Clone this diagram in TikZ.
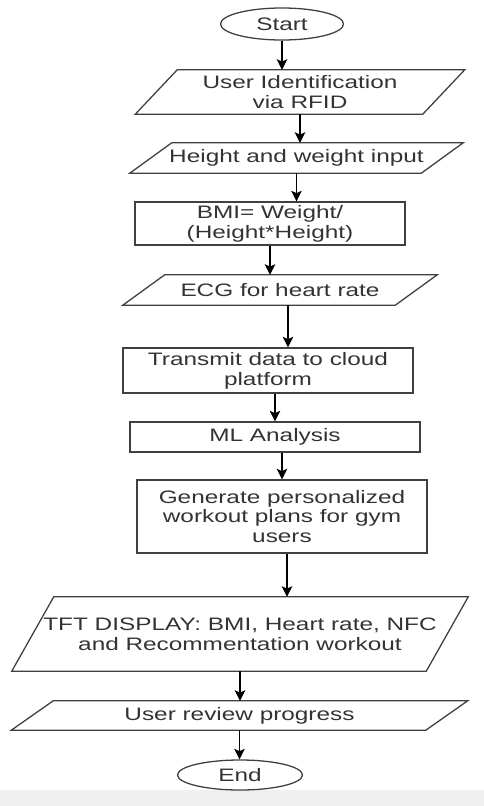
\documentclass[tikz,border=0pt]{standalone}
\usepackage{fontspec}
\setmainfont{Liberation Sans}[FakeStretch=1.35]
\usetikzlibrary{shapes.geometric, arrows.meta}

\tikzset{
  term/.style={ellipse, draw=black!75, line width=1.1pt, inner sep=0pt, text=black!80},
  box/.style={rectangle, draw=black!75, line width=1.1pt, inner sep=0pt, align=center, text=black!80},
  io/.style={rectangle, inner sep=0pt, align=center, text=black!80},
  ioline/.style={draw=black!75, line width=1.1pt, line join=miter},
  flow/.style={-{Stealth[length=9pt,width=9pt,inset=2pt]}, line width=0.9pt},
}
% slanted outline round an input/output node
\newcommand{\ioframe}[1]{%
  \draw[ioline] ([xshift=6.3mm]#1.north west) -- ([xshift=6.3mm]#1.north east)
    -- ([xshift=-6.3mm]#1.south east) -- ([xshift=-6.3mm]#1.south west) -- cycle;}

\begin{document}
\begin{tikzpicture}[x=0.03cm, y=-0.03cm, font=\fontsize{15.4}{16.8}\selectfont]
  \fill[black!6] (0,790) rectangle (484,806);
  \useasboundingbox (0,0) rectangle (484,806);
  % Flowchart steps, top to bottom
  \node[term, minimum width=3.69cm, minimum height=0.96cm] (start) at (282,24) {Start};
  \node[io, minimum width=8.61cm, minimum height=1.32cm] (uid) at (300,92) {User Identification\\via RFID};
  \node[io, minimum width=8.73cm, minimum height=0.9cm] (hw) at (296.5,158) {Height and weight input};
  \node[box, minimum width=8.1cm, minimum height=1.29cm] (bmi) at (270,223.5) {BMI= Weight/\\(Height*Height)};
  \node[io, minimum width=8.16cm, minimum height=0.9cm] (ecg) at (280,290) {ECG for heart rate};
  \node[box, minimum width=8.7cm, minimum height=1.35cm] (send) at (268,370.5) {Transmit data to cloud\\platform};
  \node[box, minimum width=8.7cm, minimum height=0.9cm] (ml) at (275,437) {ML Analysis};
  \node[box, minimum width=8.7cm, minimum height=2.19cm] (plan) at (282,516.5) {Generate personalized\\workout plans for gym\\users};
  \node[io, minimum width=12.42cm, minimum height=2.22cm] (tft) at (240,634) {TFT DISPLAY: BMI, Heart rate, NFC\\and Recommentation workout};
  \node[io, minimum width=12.42cm, minimum height=0.87cm] (review) at (239.5,715.5) {User review progress};
  \node[term, minimum width=3.75cm, minimum height=0.9cm] (stop) at (240,775) {End};
  \ioframe{uid}
  \ioframe{hw}
  \ioframe{ecg}
  \ioframe{tft}
  \ioframe{review}
  % Arrows
  \draw[flow] (start.south) -- (start.south |- uid.north);
  \draw[flow] (uid.south) -- (uid.south |- hw.north);
  \draw[flow] (hw.south) -- (hw.south |- bmi.north);
  \draw[flow] (bmi.south) -- (bmi.south |- ecg.north);
  \draw[flow] ([xshift=2.4mm]ecg.south) -- ([xshift=2.4mm]ecg.south |- send.north);
  \draw[flow] ([xshift=2.1mm]send.south) -- ([xshift=2.1mm]send.south |- ml.north);
  \draw[flow] ([xshift=2.1mm]ml.south) -- ([xshift=2.1mm]ml.south |- plan.north);
  \draw[flow] ([xshift=1.5mm]plan.south) -- ([xshift=1.5mm]plan.south |- tft.north);
  \draw[flow] (tft.south) -- (tft.south |- review.north);
  \draw[flow] (review.south) -- (review.south |- stop.north);
\end{tikzpicture}
\end{document}
